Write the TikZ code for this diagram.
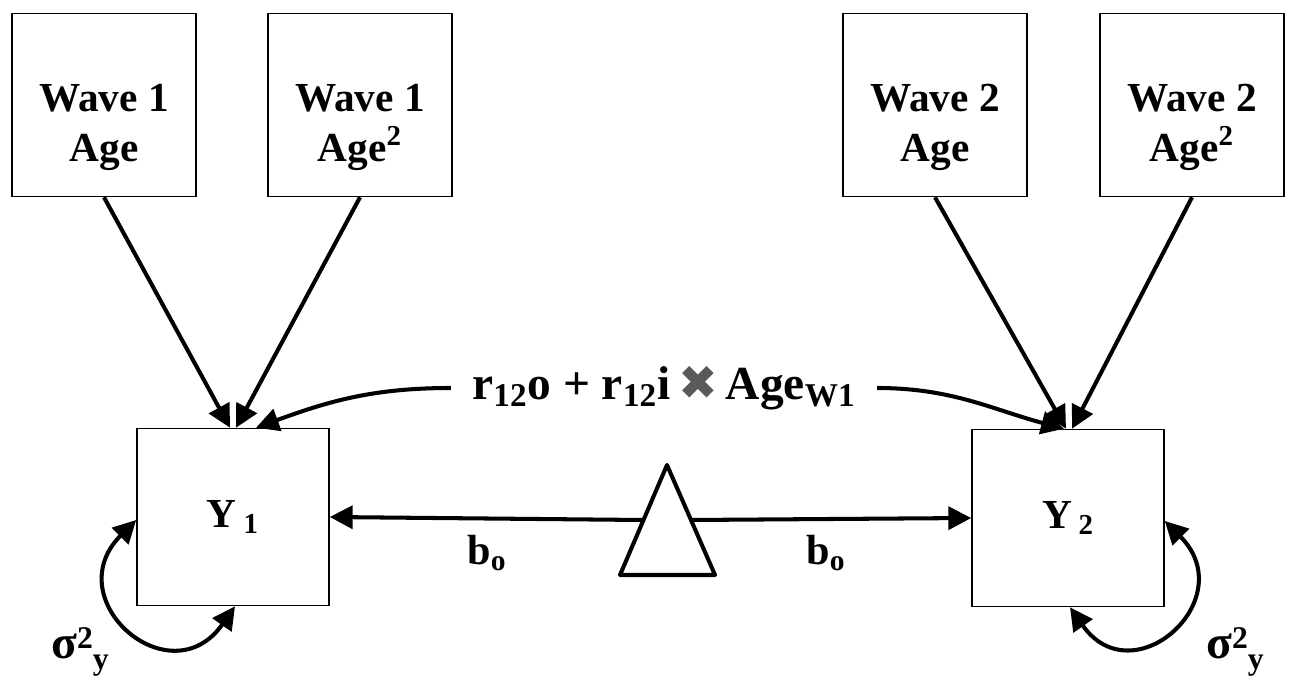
\documentclass[tikz,border=0pt]{standalone}
\usepackage{fontspec}
\setmainfont{Liberation Serif}
\newfontfamily\symfont{DejaVu Sans}
\usetikzlibrary{arrows.meta,positioning,calc}

\begin{document}
\begin{tikzpicture}[x=0.02cm,y=-0.02cm,
    agebox/.style={draw, line width=0.9pt, minimum width=3.68cm, minimum height=3.66cm, align=center, font=\fontsize{23.5}{28}\selectfont\bfseries, inner sep=0pt},
    ybox/.style={agebox, minimum width=3.84cm, minimum height=3.54cm},
    lbl/.style={font=\fontsize{24}{28}\selectfont\bfseries, inner sep=2pt},
    arr/.style={-{Triangle[length=13pt,width=13pt]}, line width=2.3pt},
    dbl/.style={{Triangle[length=13pt,width=13pt]}-{Triangle[length=13pt,width=13pt]}, line width=2.3pt}
]
\useasboundingbox (0,0) rectangle (1294,688);

% age predictors
\node[agebox] (w1age)  at (104,105)  {\rule{0pt}{41pt}Wave 1\\Age};
\node[agebox] (w1agesq) at (360,105) {\rule{0pt}{41pt}Wave 1\\Age\textsuperscript{2}};
\node[agebox] (w2age)  at (935,105)  {\rule{0pt}{41pt}Wave 2\\Age};
\node[agebox] (w2agesq) at (1192,105) {\rule{0pt}{41pt}Wave 2\\Age\textsuperscript{2}};

% outcomes
\node[ybox] (y1) at (233,517) {Y\,\textsubscript{1}};
\node[ybox] (y2) at (1068,518) {Y\,\textsubscript{2}};

% constant
\draw[line width=2.3pt, line join=round] (667,465) -- (715,575) -- (620,575) -- cycle;
\coordinate (tl) at (643,520);
\coordinate (tr) at (691,520);

\draw[arr] (w1age.south) -- ($(y1.north)+(-3,0)$);
\draw[arr] (w1agesq.south) -- ($(y1.north)+(3,0)$);
\draw[arr] (w2age.south) -- ($(y2.north)+(-2,0)$);
\draw[arr] (w2agesq.south) -- ($(y2.north)+(4,0)$);

\node[lbl, font=\fontsize{27}{30}\selectfont\bfseries, inner xsep=12pt] (rlab) at (664,388) {r\textsubscript{12}o + r\textsubscript{12}i\,{\symfont\color{black!65}✖}\,Age\textsubscript{W1}};
\draw[arr] (rlab.west) to[out=180,in=20] ($(y1.north)+(23,0)$);
\draw[arr] (rlab.east) to[out=0,in=165] ($(y2.north)+(-4,0)$);

\draw[arr] (tl) -- (y1.east);
\draw[arr] (tr) -- (y2.west);
\node[lbl] (b1) at (487,553) {b\textsubscript{o}};
\node[lbl] (b2) at (826,553) {b\textsubscript{o}};

% variances
\draw[dbl] ($(y1.south)+(2,0)$) to[out=235,in=225,looseness=2.2] ($(y1.west)+(0,3)$);
\draw[dbl] ($(y2.south)+(2,0)$) to[out=-55,in=-45,looseness=2.2] ($(y2.east)+(0,3)$);
\node[lbl, font=\fontsize{27}{30}\selectfont\bfseries] (v1) at (80,652) {σ\raisebox{0.45ex}{\fontsize{18}{20}\selectfont 2}\raisebox{-0.5ex}{\fontsize{18}{20}\selectfont y}};
\node[lbl, font=\fontsize{27}{30}\selectfont\bfseries] (v2) at (1235,652) {σ\raisebox{0.45ex}{\fontsize{18}{20}\selectfont 2}\raisebox{-0.5ex}{\fontsize{18}{20}\selectfont y}};
\end{tikzpicture}
\end{document}
